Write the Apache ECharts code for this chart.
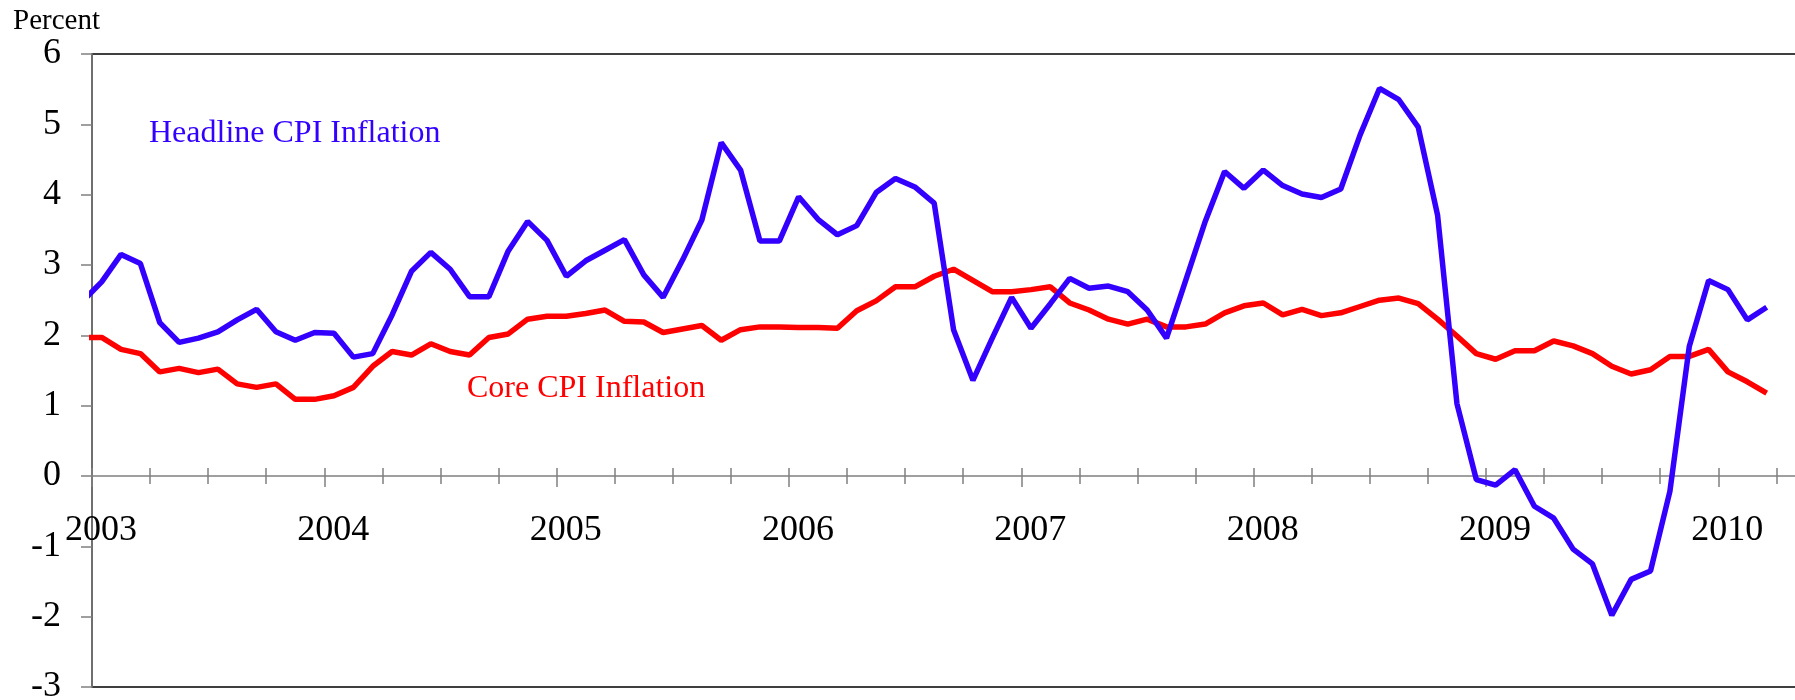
<!DOCTYPE html>
<html>
<head>
<meta charset="utf-8">
<script src="https://cdn.jsdelivr.net/npm/echarts@6/dist/echarts.min.js"></script>
<style>
html,body{margin:0;padding:0;background:#fff;}
#chart{width:1795px;height:700px;}
</style>
</head>
<body>
<div id="chart"></div>
<script>
// Monthly data, Dec 2002 (first entry, clipped at the axis) through Mar 2010
const headlineCPI = [
  2.48,
  2.76, 3.15, 3.02, 2.18, 1.90, 1.96, 2.05, 2.22, 2.37, 2.05, 1.93, 2.04,
  2.03, 1.69, 1.74, 2.29, 2.91, 3.18, 2.94, 2.55, 2.55, 3.20, 3.62, 3.35,
  2.84, 3.06, 3.21, 3.36, 2.86, 2.54, 3.07, 3.64, 4.74, 4.35, 3.34, 3.34,
  3.97, 3.65, 3.43, 3.56, 4.03, 4.23, 4.11, 3.88, 2.08, 1.36, 1.96, 2.54,
  2.10, 2.45, 2.81, 2.67, 2.70, 2.62, 2.36, 1.96, 2.79, 3.62, 4.33, 4.09,
  4.35, 4.13, 4.01, 3.96, 4.08, 4.85, 5.51, 5.35, 4.96, 3.71, 1.03, -0.05,
  -0.13, 0.09, -0.43, -0.60, -1.04, -1.25, -1.98, -1.47, -1.35, -0.22, 1.84, 2.78,
  2.65, 2.22, 2.40
];
const coreCPI = [
  1.97,
  1.97, 1.80, 1.74, 1.48, 1.53, 1.47, 1.52, 1.31, 1.26, 1.31, 1.09, 1.09,
  1.14, 1.26, 1.56, 1.77, 1.72, 1.88, 1.77, 1.72, 1.97, 2.02, 2.23, 2.27,
  2.27, 2.31, 2.36, 2.20, 2.19, 2.04, 2.09, 2.14, 1.93, 2.08, 2.12, 2.12,
  2.11, 2.11, 2.10, 2.35, 2.49, 2.69, 2.69, 2.84, 2.94, 2.78, 2.62, 2.62,
  2.65, 2.69, 2.46, 2.36, 2.23, 2.16, 2.23, 2.12, 2.12, 2.16, 2.32, 2.42,
  2.46, 2.29, 2.37, 2.28, 2.32, 2.41, 2.50, 2.53, 2.45, 2.23, 1.99, 1.74,
  1.66, 1.78, 1.78, 1.92, 1.85, 1.74, 1.56, 1.45, 1.51, 1.70, 1.70, 1.80,
  1.48, 1.34, 1.18
];
const yearLabels = ['2003','2004','2005','2006','2007','2008','2009','2010'];
const seriesNames = ['Headline CPI Inflation', 'Core CPI Inflation'];
const yUnit = 'Percent';

const FONT = '"Liberation Serif", "Times New Roman", serif';
const GRAY = '#808080';
const BLUE = '#3300ff';
const RED = '#ff0000';

// entry i sits in the middle of month (i-1) counted from Jan 2003
const toPoints = arr => arr.map((v, i) => [i - 0.5, v]);

const Y_MIN = -3, Y_MAX = 6;
const GRID = { left: 92, top: 54, right: -5, bottom: 13 };
const PLOT_H = 700 - GRID.top - GRID.bottom;
// distance from the plot bottom up to the zero line (axis styling offset)
const ZERO_OFFSET = -PLOT_H * (0 - Y_MIN) / (Y_MAX - Y_MIN);

const xBase = {
  type: 'value', min: 0, max: 88.22, interval: 3,
  splitLine: { show: false }
};
const yearOf = v => {
  const r = Math.round(v);
  return (Math.abs(v - r) < 1e-6 && r % 12 === 0 && yearLabels[r / 12]) ? yearLabels[r / 12] : '';
};

const chart = echarts.init(document.getElementById('chart'), null, { renderer: 'canvas' });
chart.setOption({
  animation: false,
  backgroundColor: '#fff',
  grid: Object.assign({}, GRID, {
    outerBoundsMode: 'none', containLabel: false,
    show: true, borderColor: '#000', borderWidth: 1.5, backgroundColor: 'transparent'
  }),
  xAxis: [
    Object.assign({}, xBase, {
      position: 'bottom',
      axisLine: { show: true, onZero: true, lineStyle: { color: GRAY, width: 1.5 } },
      axisTick: { show: true, inside: true, length: 8, lineStyle: { color: GRAY, width: 1.5 } },
      axisLabel: { show: false }
    }),
    Object.assign({}, xBase, {
      position: 'bottom', offset: ZERO_OFFSET,
      axisLine: { show: false, onZero: false },
      axisTick: { show: true, inside: false, length: 8, lineStyle: { color: GRAY, width: 1.5 } },
      axisLabel: {
        show: true, margin: 37, fontFamily: FONT, fontSize: 36, color: '#000', lineHeight: 36,
        padding: [0, 0, 0, 18], showMinLabel: true, showMaxLabel: false,
        formatter: yearOf
      }
    }),
    Object.assign({}, xBase, {
      position: 'bottom', interval: 12, offset: ZERO_OFFSET,
      axisLine: { show: false, onZero: false },
      axisTick: { show: true, inside: false, length: 11, lineStyle: { color: GRAY, width: 1.5 } },
      axisLabel: { show: false }
    })
  ],
  yAxis: [{
    type: 'value', min: Y_MIN, max: Y_MAX, interval: 1,
    splitLine: { show: false },
    position: 'left',
    axisLine: { show: true, onZero: false, lineStyle: { color: GRAY, width: 1.5 } },
    axisTick: { show: true, inside: false, length: 11, lineStyle: { color: GRAY, width: 1.5 } },
    axisLabel: { margin: 31, align: 'right', fontFamily: FONT, fontSize: 36, color: '#000',
      formatter: v => String(v) }
  }],
  series: [
    {
      name: seriesNames[1], type: 'line', xAxisIndex: 0, yAxisIndex: 0,
      data: toPoints(coreCPI), showSymbol: false, symbol: 'none', clip: true,
      lineStyle: { color: RED, width: 5.5 }, itemStyle: { color: RED }, z: 3
    },
    {
      name: seriesNames[0], type: 'line', xAxisIndex: 0, yAxisIndex: 0,
      data: toPoints(headlineCPI), showSymbol: false, symbol: 'none', clip: true,
      lineStyle: { color: BLUE, width: 5.5 }, itemStyle: { color: BLUE }, z: 4
    }
  ],
  graphic: [
    {
      type: 'text', left: 13, top: 7, z: 10,
      style: { text: yUnit, fill: '#000', font: '29px ' + FONT }
    },
    {
      type: 'text', left: 149, top: 118, z: 10,
      style: { text: seriesNames[0], fill: BLUE, font: '32px ' + FONT }
    },
    {
      type: 'text', left: 467, top: 373, z: 10,
      style: { text: seriesNames[1], fill: RED, font: '32px ' + FONT }
    }
  ]
});
</script>
</body>
</html>
